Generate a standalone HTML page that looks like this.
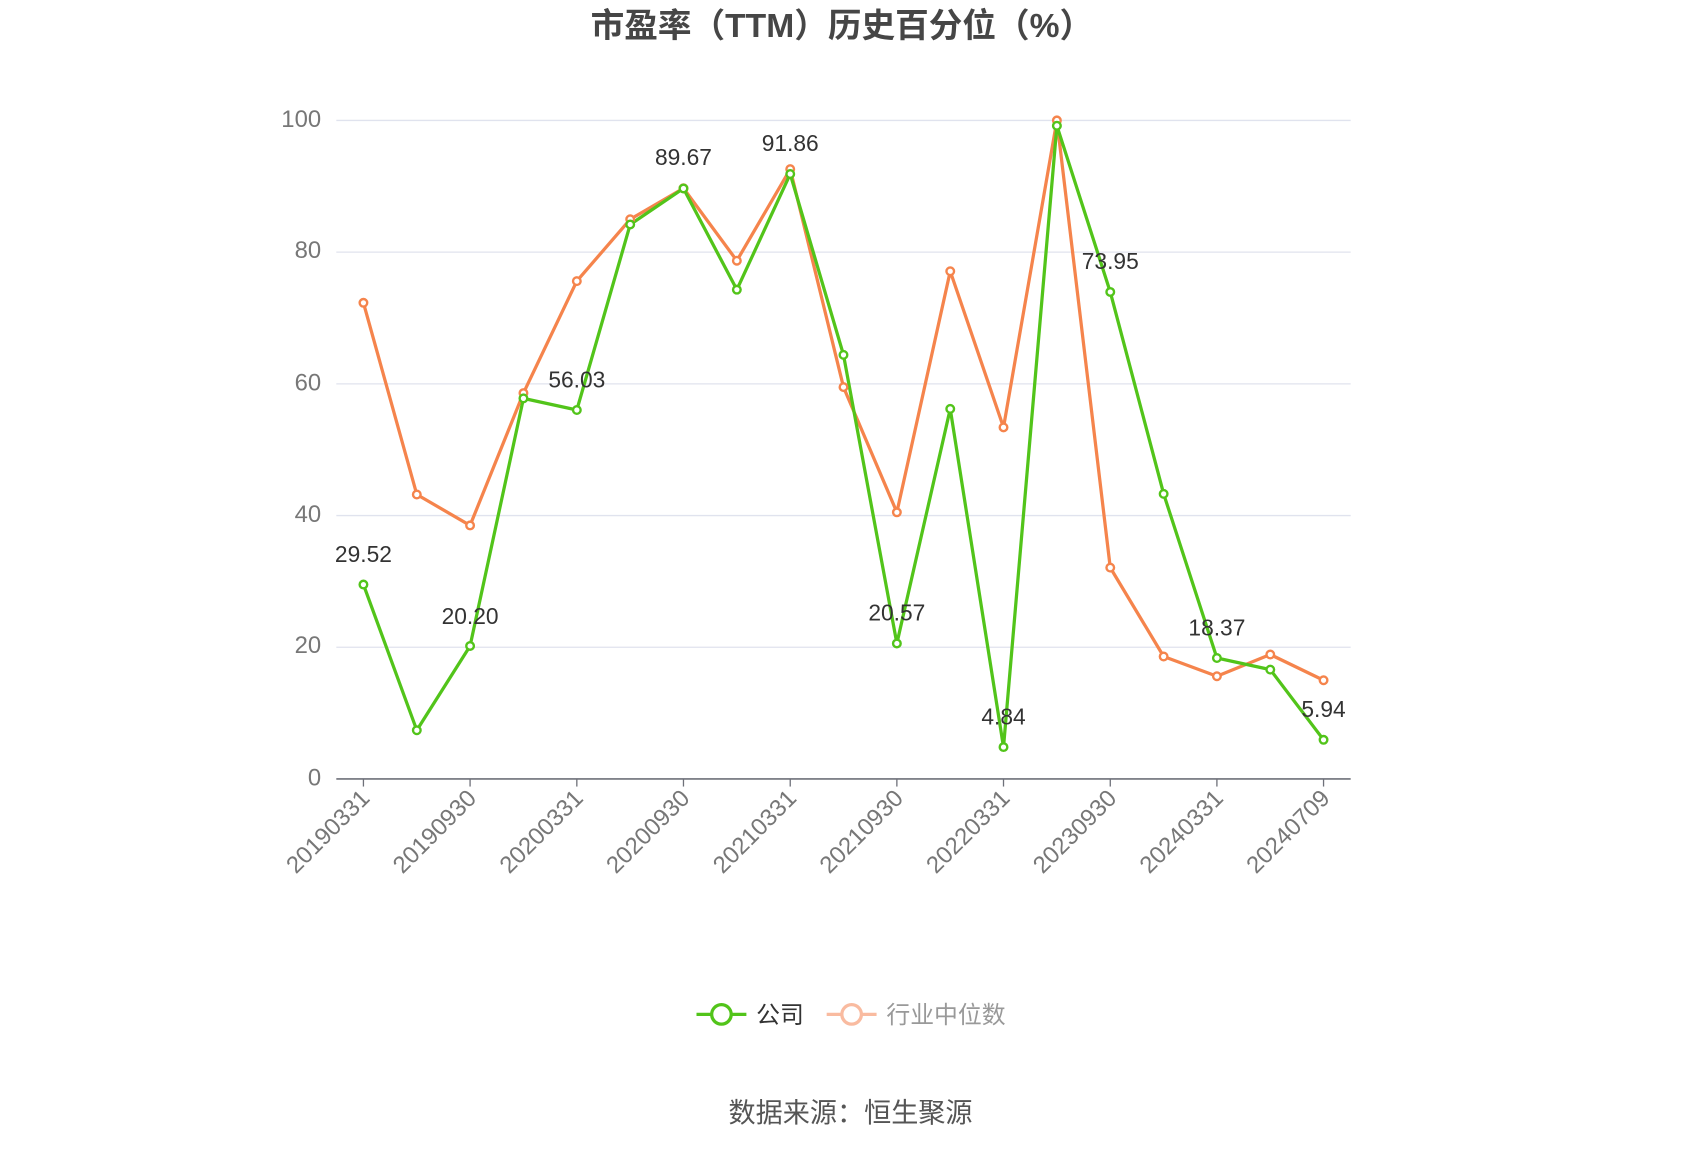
<!DOCTYPE html>
<html><head><meta charset="utf-8"><style>
html,body{margin:0;padding:0;background:#fff;}
svg{display:block;font-family:"Liberation Sans","Noto Sans CJK SC",sans-serif;}
</style></head><body>
<svg width="1700" height="1150" viewBox="0 0 1567 1060" preserveAspectRatio="none" xmlns="http://www.w3.org/2000/svg">
<rect width="1567" height="1060" fill="#fff"/>
<text x="776" y="34" text-anchor="middle" font-size="31" font-weight="bold" fill="#464646">市盈率（TTM）历史百分位（%）</text>
<g stroke="#e0e3ee" stroke-width="1.2">
<line x1="310" y1="111" x2="1245" y2="111"/>
<line x1="310" y1="232.4" x2="1245" y2="232.4"/>
<line x1="310" y1="353.8" x2="1245" y2="353.8"/>
<line x1="310" y1="475.2" x2="1245" y2="475.2"/>
<line x1="310" y1="596.6" x2="1245" y2="596.6"/>
</g>
<line x1="310" y1="718" x2="1245" y2="718" stroke="#6e7079" stroke-width="1.5"/>
<g font-size="22" fill="#777" text-anchor="end">
<text x="296" y="117">100</text><text x="296" y="238">80</text><text x="296" y="360">60</text><text x="296" y="481">40</text><text x="296" y="602">20</text><text x="296" y="724">0</text>
</g>
<g stroke="#6e7079" stroke-width="1.2">
<line x1="335" y1="718" x2="335" y2="725"/><line x1="433.3" y1="718" x2="433.3" y2="725"/><line x1="531.7" y1="718" x2="531.7" y2="725"/><line x1="630" y1="718" x2="630" y2="725"/><line x1="728.4" y1="718" x2="728.4" y2="725"/><line x1="826.7" y1="718" x2="826.7" y2="725"/><line x1="925" y1="718" x2="925" y2="725"/><line x1="1023.4" y1="718" x2="1023.4" y2="725"/><line x1="1121.7" y1="718" x2="1121.7" y2="725"/><line x1="1220" y1="718" x2="1220" y2="725"/>
</g>
<g font-size="22" fill="#777" text-anchor="end">
<text transform="translate(342,737) rotate(-45)">20190331</text>
<text transform="translate(440.3,737) rotate(-45)">20190930</text>
<text transform="translate(538.7,737) rotate(-45)">20200331</text>
<text transform="translate(637,737) rotate(-45)">20200930</text>
<text transform="translate(735.4,737) rotate(-45)">20210331</text>
<text transform="translate(833.7,737) rotate(-45)">20210930</text>
<text transform="translate(932,737) rotate(-45)">20220331</text>
<text transform="translate(1030.4,737) rotate(-45)">20230930</text>
<text transform="translate(1128.7,737) rotate(-45)">20240331</text>
<text transform="translate(1227,737) rotate(-45)">20240709</text>
</g>
<polyline fill="none" stroke="#f5844c" stroke-width="3" stroke-linejoin="round" points="335,279.1 384.2,455.8 433.3,484.3 482.5,362.3 531.7,259.1 580.9,202.1 630,173.5 679.2,240.3 728.4,155.9 777.5,356.8 826.7,472.2 875.9,250 925,393.9 974.2,111 1023.4,523.2 1072.6,605.1 1121.7,623.3 1170.9,603.3 1220,627"/>
<polyline fill="none" stroke="#52c41a" stroke-width="3" stroke-linejoin="round" points="335,538.8 384.2,673.1 433.3,595.4 482.5,367.2 531.7,377.9 580.9,206.9 630,173.7 679.2,267 728.4,160.4 777.5,327.1 826.7,593.1 875.9,376.9 925,688.6 974.2,115.9 1023.4,269.1 1072.6,455.2 1121.7,606.5 1170.9,617.2 1220,681.9"/>
<g fill="#fff" stroke="#f5844c" stroke-width="2.2">
<circle cx="335" cy="279.1" r="3.5"/><circle cx="384.2" cy="455.8" r="3.5"/><circle cx="433.3" cy="484.3" r="3.5"/><circle cx="482.5" cy="362.3" r="3.5"/><circle cx="531.7" cy="259.1" r="3.5"/><circle cx="580.9" cy="202.1" r="3.5"/><circle cx="630" cy="173.5" r="3.5"/><circle cx="679.2" cy="240.3" r="3.5"/><circle cx="728.4" cy="155.9" r="3.5"/><circle cx="777.5" cy="356.8" r="3.5"/><circle cx="826.7" cy="472.2" r="3.5"/><circle cx="875.9" cy="250" r="3.5"/><circle cx="925" cy="393.9" r="3.5"/><circle cx="974.2" cy="111" r="3.5"/><circle cx="1023.4" cy="523.2" r="3.5"/><circle cx="1072.6" cy="605.1" r="3.5"/><circle cx="1121.7" cy="623.3" r="3.5"/><circle cx="1170.9" cy="603.3" r="3.5"/><circle cx="1220" cy="627" r="3.5"/>
</g>
<g fill="#fff" stroke="#52c41a" stroke-width="2.2">
<circle cx="335" cy="538.8" r="3.5"/><circle cx="384.2" cy="673.1" r="3.5"/><circle cx="433.3" cy="595.4" r="3.5"/><circle cx="482.5" cy="367.2" r="3.5"/><circle cx="531.7" cy="377.9" r="3.5"/><circle cx="580.9" cy="206.9" r="3.5"/><circle cx="630" cy="173.7" r="3.5"/><circle cx="679.2" cy="267" r="3.5"/><circle cx="728.4" cy="160.4" r="3.5"/><circle cx="777.5" cy="327.1" r="3.5"/><circle cx="826.7" cy="593.1" r="3.5"/><circle cx="875.9" cy="376.9" r="3.5"/><circle cx="925" cy="688.6" r="3.5"/><circle cx="974.2" cy="115.9" r="3.5"/><circle cx="1023.4" cy="269.1" r="3.5"/><circle cx="1072.6" cy="455.2" r="3.5"/><circle cx="1121.7" cy="606.5" r="3.5"/><circle cx="1170.9" cy="617.2" r="3.5"/><circle cx="1220" cy="681.9" r="3.5"/>
</g>
<g font-size="21" fill="#333" text-anchor="middle">
<text x="335" y="518">29.52</text><text x="433.3" y="575">20.20</text><text x="531.7" y="357">56.03</text><text x="630" y="152">89.67</text><text x="728.4" y="139">91.86</text><text x="826.7" y="572">20.57</text><text x="925" y="668">4.84</text><text x="1023.4" y="248">73.95</text><text x="1121.7" y="586">18.37</text><text x="1220" y="661">5.94</text>
</g>
<line x1="642" y1="935" x2="688" y2="935" stroke="#52c41a" stroke-width="3"/>
<circle cx="665" cy="935" r="9" fill="#fff" stroke="#52c41a" stroke-width="3"/>
<text x="697" y="943" font-size="22" fill="#333">公司</text>
<line x1="762" y1="935" x2="808" y2="935" stroke="#f9bba0" stroke-width="3"/>
<circle cx="785" cy="935" r="9" fill="#fff" stroke="#f9bba0" stroke-width="3"/>
<text x="817" y="943" font-size="22" fill="#999">行业中位数</text>
<text x="784" y="1034" font-size="25" fill="#555" text-anchor="middle">数据来源：恒生聚源</text>
</svg>
</body></html>
